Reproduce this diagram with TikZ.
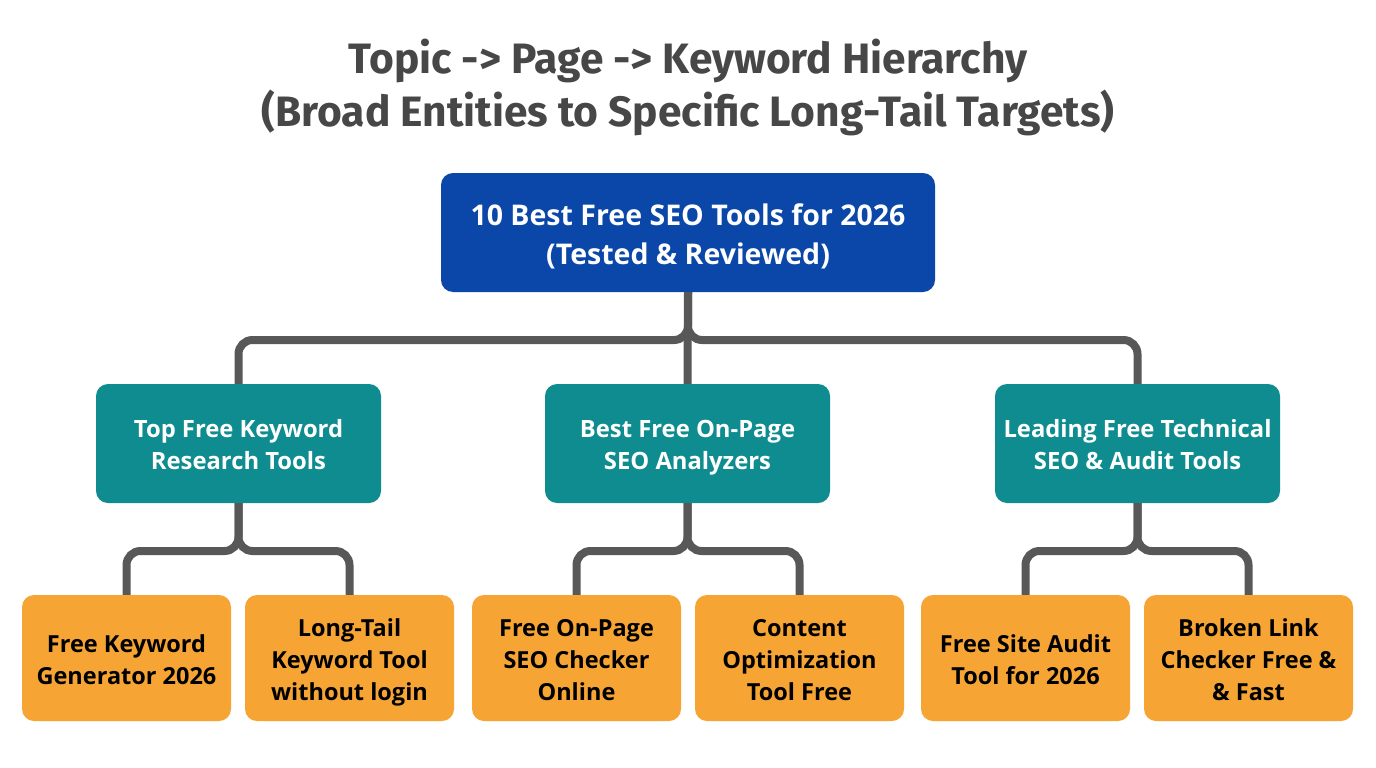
\documentclass[tikz,border=0pt]{standalone}
\usepackage{fontspec}
\setmainfont{Open Sans}
\newfontfamily\titlefont{Fira Sans}
\definecolor{titlegray}{HTML}{474747}
\definecolor{topblue}{HTML}{0A47A8}
\definecolor{midteal}{HTML}{0E8C8F}
\definecolor{leaforange}{HTML}{F6A535}
\definecolor{conngray}{HTML}{585858}
\newcommand{\ls}{\rule[-0.18\baselineskip]{0pt}{\baselineskip}}
\begin{document}
\begin{tikzpicture}[x=1pt,y=-1pt,
  box/.style={rounded corners=12pt, inner sep=0pt, align=center, anchor=center},
  topbox/.style={box, fill=topblue, text=white, minimum width=494pt, minimum height=119pt, font=\fontsize{28.5}{39}\selectfont\bfseries},
  midbox/.style={box, fill=midteal, text=white, minimum width=285pt, minimum height=119pt, font=\fontsize{23.8}{32}\selectfont\bfseries},
  leafbox/.style={box, fill=leaforange, text=black, minimum width=209pt, minimum height=126pt, font=\fontsize{23.5}{32}\selectfont\bfseries},
  conn/.style={draw=conngray, line width=8pt, rounded corners=14pt}
]
\useasboundingbox[fill=white] (0,0) rectangle (1376,768);

\node[font=\titlefont\fontsize{42.5}{53}\selectfont\bfseries, text=titlegray, align=center] (title) at (688,87) {Topic -> Page -> Keyword Hierarchy\\(Broad Entities to Specific Long-Tail Targets)};

\coordinate (b0) at (688,340);
\coordinate (b1) at (238.5,551);
\coordinate (b2) at (687.5,551);
\coordinate (b3) at (1137.5,551);

\node[topbox] (top) at (688,232.5) {\ls 10 Best Free SEO Tools for 2026\\\ls(Tested \& Reviewed)};

\node[midbox] (m1) at (238.5,443.5) {\ls Top Free Keyword\\\ls Research Tools};
\node[midbox] (m2) at (687.5,443.5) {\ls Best Free On-Page\\\ls SEO Analyzers};
\node[midbox] (m3) at (1137.5,443.5) {\ls Leading Free Technical\\\ls SEO \& Audit Tools};

\node[leafbox] (l1) at (126.5,658) {\ls Free Keyword\\\ls Generator 2026};
\node[leafbox] (l2) at (349.5,658) {\ls Long-Tail\\\ls Keyword Tool\\\ls without login};
\node[leafbox] (l3) at (576.5,658) {\ls Free On-Page\\\ls SEO Checker\\\ls Online};
\node[leafbox] (l4) at (799.5,658) {\ls Content\\\ls Optimization\\\ls Tool Free};
\node[leafbox] (l5) at (1025.5,658) {\ls Free Site Audit\\\ls Tool for 2026};
\node[leafbox] (l6) at (1248.5,658) {\ls Broken Link\\\ls Checker Free \&\\\ls\& Fast};

\draw[conn] (top.south) -- (b0) -| (m1.north);
\draw[conn] (top.south) -- (b0) -| (m3.north);
\draw[conn] (top.south) -- (m2.north);

\draw[conn] (m1.south) -- (b1) -| (l1.north);
\draw[conn] (m1.south) -- (b1) -| (l2.north);
\draw[conn] (m2.south) -- (b2) -| (l3.north);
\draw[conn] (m2.south) -- (b2) -| (l4.north);
\draw[conn] (m3.south) -- (b3) -| (l5.north);
\draw[conn] (m3.south) -- (b3) -| (l6.north);
\end{tikzpicture}
\end{document}
